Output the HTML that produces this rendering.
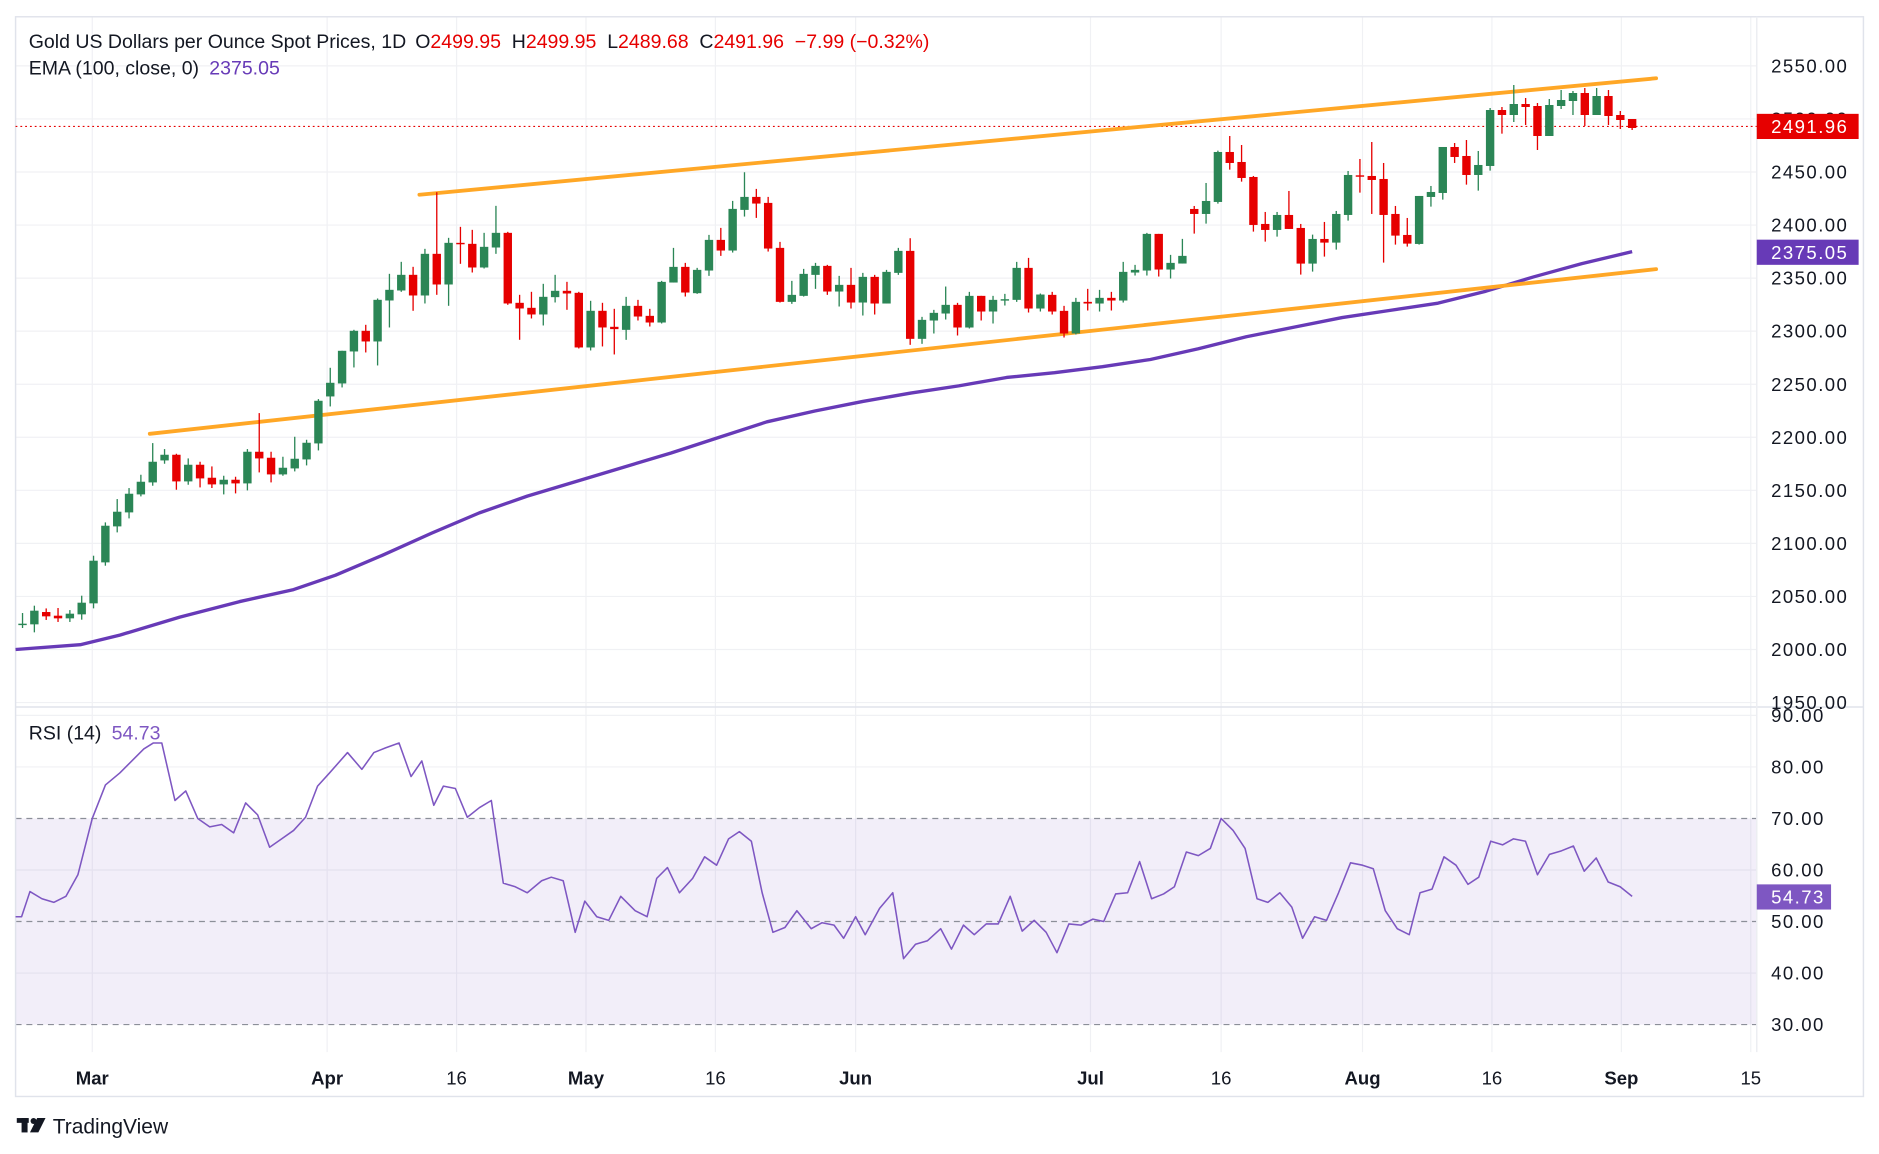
<!DOCTYPE html>
<html><head><meta charset="utf-8"><style>
html,body{margin:0;padding:0;background:#fff;}
svg{display:block;}
text{font-family:"Liberation Sans",sans-serif;}
</style></head><body>
<svg id="s" width="1879" height="1154" viewBox="0 0 1568 963" preserveAspectRatio="none" xmlns="http://www.w3.org/2000/svg">
<rect x="0" y="0" width="1568" height="963" fill="#fff"/>
<g id="grid" stroke="#f0f1f4" stroke-width="1"></g>
<rect x="13" y="683" width="1453" height="172" fill="#7e57c2" fill-opacity="0.1"/>
<g stroke="#8c8f99" stroke-width="1" stroke-dasharray="5,4">
<line x1="13" y1="683" x2="1466" y2="683"/>
<line x1="13" y1="769" x2="1466" y2="769"/>
<line x1="13" y1="855" x2="1466" y2="855"/>
</g>
<g stroke="#e0e3eb" stroke-width="1.2" fill="none">
<rect x="13" y="14" width="1542" height="901"/>
<line x1="13" y1="590" x2="1555" y2="590"/>
<line x1="1466" y1="14" x2="1466" y2="878" stroke="#eceef2"/>
</g>
<line x1="13" y1="105.5" x2="1466" y2="105.5" stroke="#e60000" stroke-width="1" stroke-dasharray="1.5,2.5"/>
<g id="ema"></g>
<g stroke="#ffa726" stroke-width="3.2" stroke-linecap="round">
<line x1="350" y1="162.5" x2="1382" y2="65.3"/>
<line x1="125" y1="362" x2="1382" y2="224.6"/>
</g>
<g id="candles"></g>
<g id="rsi"></g>
<g id="plabels" font-size="15.5" fill="#131722" letter-spacing="1.2"></g>
<rect x="1466" y="95" width="85" height="21" fill="#e60000"/>
<text x="1478" y="111" font-size="15.5" fill="#fff" letter-spacing="1.2">2491.96</text>
<rect x="1466" y="200" width="85" height="21" fill="#673ab7"/>
<text x="1478" y="216" font-size="15.5" fill="#fff" letter-spacing="1.2">2375.05</text>
<rect x="1466" y="738" width="62" height="21" fill="#7e57c2"/>
<text x="1478" y="754" font-size="15.5" fill="#fff" letter-spacing="1.2">54.73</text>
<g id="tlabels" font-size="15.5" fill="#131722" text-anchor="middle"></g>
<text x="24" y="40" font-size="16.3" fill="#131722">Gold US Dollars per Ounce Spot Prices, 1D <tspan dx="3">O</tspan><tspan fill="#e60000">2499.95</tspan><tspan dx="9">H</tspan><tspan fill="#e60000">2499.95</tspan><tspan dx="9">L</tspan><tspan fill="#e60000">2489.68</tspan><tspan dx="9">C</tspan><tspan fill="#e60000">2491.96</tspan><tspan dx="9" fill="#e60000">−7.99 (−0.32%)</tspan></text>
<text x="24" y="62" font-size="16.3" fill="#131722">EMA (100, close, 0) <tspan dx="4" fill="#673ab7">2375.05</tspan></text>
<text x="24" y="617" font-size="16.3" fill="#131722">RSI (14) <tspan dx="4" fill="#7e57c2">54.73</tspan></text>
<g fill="#131722">
<rect x="14" y="933" width="10" height="4"/><rect x="18" y="933" width="5" height="12"/>
<circle cx="28" cy="935.5" r="2.5"/><polygon points="31,933 38,933 32,945 25,945"/>
</g>
<text x="44" y="946" font-size="17.5" fill="#131722">TradingView</text>
</svg>
<script>
var NS="http://www.w3.org/2000/svg";
function el(p,t,a){var e=document.createElementNS(NS,t);for(var k in a)e.setAttribute(k,a[k]);document.getElementById(p).appendChild(e);return e;}
function Y(p){return 542-(p-2000)*0.8855;}
var prices=[2550,2500,2450,2400,2350,2300,2250,2200,2150,2100,2050,2000,1950];
prices.forEach(function(p){var y=Y(p);if(y<588)el("grid","line",{x1:13,y1:y,x2:1466,y2:y});});
[90,80,60,40].forEach(function(r){var y=855-(r-30)*4.3;el("grid","line",{x1:13,y1:y,x2:1466,y2:y});});
[77,273,381,489,597,714,910,1019,1137,1245,1353,1461].forEach(function(x){el("grid","line",{x1:x,y1:14,x2:x,y2:878});});
prices.forEach(function(p){var t=el("plabels","text",{x:1478,y:Y(p)+5.5});t.textContent=p.toFixed(2);});
[90,80,70,60,50,40,30].forEach(function(r){var t=el("plabels","text",{x:1478,y:855-(r-30)*4.3+5.5});t.textContent=r.toFixed(2);});
var tl=[["Mar",77,1],["Apr",273,1],["16",381,0],["May",489,1],["16",597,0],["Jun",714,1],["Jul",910,1],["16",1019,0],["Aug",1137,1],["16",1245,0],["Sep",1353,1],["15",1461,0]];
tl.forEach(function(a){var t=el("tlabels","text",{x:a[1],y:905,"font-weight":a[2]?"bold":"normal"});t.textContent=a[0];});
var A=[[1362,1362,1,1330,1375],[1323,1364,1,1308,1388],[1327,1340,0],[1338,1346,0,1315],[1332,1346,1],[1299,1334,1,1278,1350],[1173,1301,1,1158,1316],[1068,1178,1,1058,1188],[1026,1070,1,988,1088],[972,1028,1,955,1046],[936,974,1,915,980],[876,938,1,820,948],[855,872,1,838,882],[855,935,0,852,960],[885,935,1,866,945],[885,926,0,876,953],[924,944,0,890],[930,944,1,918,974],[930,941,0,921,971],[846,941,1,838,962],[846,866,0,730,908],[864,914,0,846,938],[894,914,1,861,918],[867,896,1,801,905],[819,869,1,810,887],[693,821,1,688,842],[639,680,1,594,710],[543,641,1,543,653],[483,545,1,480,593],[483,515,0,465,548],[390,515,1,386,587],[360,392,1,312,473],[315,362,1,276,366],[315,377,0,291,423],[252,377,1,237,401],[252,344,0,67,375],[219,344,1,204,408],[219,219,0,171,282],[222,293,0,180,308],[231,293,1,189,296],[189,233,1,108,252],[189,401,0,186,405],[399,416,0,375,510],[414,434,0,366,446],[381,434,1,342,467],[363,382,1,315,398],[363,371,0,336,420],[369,533,0,366,536],[423,533,1,393,542],[423,473,0,399,530],[471,478,0,417,554]];
var B=[[468,540,1,441,570],[468,500,0,450,512],[498,518,0,477,530],[396,518,1,393,521],[351,398,1,294,398],[351,428,0,339,440],[360,430,1,354,432],[270,362,1,255,378],[270,302,0,234,318],[177,302,1,153,308],[141,180,1,67,200],[141,161,0,117,204],[159,296,0,141,305],[294,456,0,276,458],[435,456,1,393,462],[372,438,1,357,440],[348,375,1,339,417],[348,425,0,345,435],[405,425,1,378,470],[405,458,0,354,476],[381,458,1,369,497],[381,461,0,375,494],[366,461,1,360,461],[303,369,1,294,375],[303,567,0,265,585],[510,567,1,501,582],[489,512,1,480,551],[465,491,1,410,509],[465,533,0,459,557],[438,533,1,426,536],[438,485,0,438,512],[450,485,1,438,521],[448,448,1,432,467],[354,450,1,336,456],[354,476,0,324,488],[434,476,1,431,485],[435,485,0,426,494],[483,551,0,468,563],[456,551,1,444,554],[456,461,0,417,482],[444,461,1,420,485],[444,452,0,426,482],[366,452,1,336,458],[360,368,1,345,377],[252,362,1,249,377],[252,359,0,252,380],[339,359,1,315,386],[318,341,1,267,341]];
var C=[[417,432,0,408,491],[393,432,1,339,461],[246,396,1,242,401],[246,279,0,198,299],[276,324,0,225,335],[321,465,0,318,485],[462,480,0,426,515],[435,480,1,426,500],[435,477,0,363,477],[474,581,0,462,614],[507,581,1,494,605],[507,518,0,456,560],[432,518,1,423,539],[315,435,1,303,452],[316,320,0,267,368],[318,330,0,216,432],[327,435,0,279,578],[432,497,0,408,524],[495,521,0,444,530],[378,522,1,378,524],[366,381,1,348,410],[231,369,1,231,389],[231,261,0,219,279],[258,315,0,210,344],[285,315,1,243,362],[120,288,1,114,302],[120,135,0,111,191],[102,135,1,45,156],[102,111,0,84,165],[108,198,0,99,240],[105,198,1,87,198],[90,108,1,60,117],[69,93,1,63,135],[69,135,0,54,168],[78,135,1,54,135],[78,138,0,60,165],[135,150,0,123,177],[147,174,0,147,180]];
var all=[];
A.forEach(function(c){all.push([c,2452]);});B.forEach(function(c){all.push([c,2470.8]);});C.forEach(function(c){all.push([c,2546.1]);});
var n=all.length,sp=(1362-18.8)/(n-1);
all.forEach(function(o,i){var c=o[0],a=o[1];var x=18.8+i*sp;
 var top=Y(a-0.314*c[0]),bot=Y(a-0.314*c[1]);
 var hi=c[3]!==undefined?Y(a-0.314*c[3]):top-3,lo=c[4]!==undefined?Y(a-0.314*c[4]):bot+3;
 var col=c[2]?"#2b8656":"#e60000";
 el("candles","line",{x1:x,y1:hi,x2:x,y2:lo,stroke:col,"stroke-width":1.1});
 var h=Math.max(bot-top,1.2);
 el("candles","rect",{x:x-3.5,y:top,width:7,height:h,fill:col});
});
var e=[[13,542],[67,538],[100,530],[150,515],[200,502],[245,492],[280,480],[320,463],[360,445],[400,428],[440,414],[480,402],[520,390],[560,378],[600,365],[640,352],[680,343],[720,335],[760,328],[800,322],[840,315],[880,311],[920,306],[960,300],[1000,291],[1040,281],[1080,273],[1120,265],[1160,259],[1200,253],[1240,243],[1280,231],[1320,220],[1362,210]];
el("ema","polyline",{points:e.map(function(p){return p.join(",");}).join(" "),fill:"none",stroke:"#673ab7","stroke-width":2.8,"stroke-linejoin":"round"});
var r="13,765 18,765 25,744 35,750 45,753 55,748 65,730 77,683 88,655 100,645 110,635 120,625 128,620 135,620 146,668 155,660 165,683 175,690 185,688 195,695 205,670 215,680 225,707 235,700 245,693 255,682 265,656 275,645 290,628 302,642 312,628 322,624 333,620 343,648 352,635 362,672 370,656 380,658 390,682 400,674 410,668 420,737 430,740 440,745 452,735 460,732 470,735 480,778 488,752 498,765 508,768 518,748 530,760 540,765 548,733 557,724 567,745 578,733 588,715 598,722 608,700 617,694 627,702 636,745 645,778 655,774 665,760 677,775 686,770 696,772 704,783 714,765 722,780 734,758 745,745 754,800 764,788 774,785 785,775 794,792 804,772 813,780 823,771 833,771 843,748 853,777 863,768 873,778 882,795 892,771 902,772 912,767 921,769 931,746 941,745 951,719 961,750 971,746 980,740 990,711 1000,714 1010,708 1019,683 1029,693 1039,708 1049,750 1058,753 1068,745 1078,757 1087,783 1097,765 1107,768 1117,745 1127,720 1137,722 1146,725 1156,760 1166,775 1176,780 1185,745 1195,742 1205,715 1215,722 1225,738 1234,732 1244,702 1254,705 1263,700 1273,702 1283,730 1293,713 1303,710 1313,706 1322,727 1332,716 1342,736 1352,740 1362,748";
el("rsi","polyline",{points:r,fill:"none",stroke:"#7e57c2","stroke-width":1.3,"stroke-linejoin":"round"});
</script>
</body></html>
